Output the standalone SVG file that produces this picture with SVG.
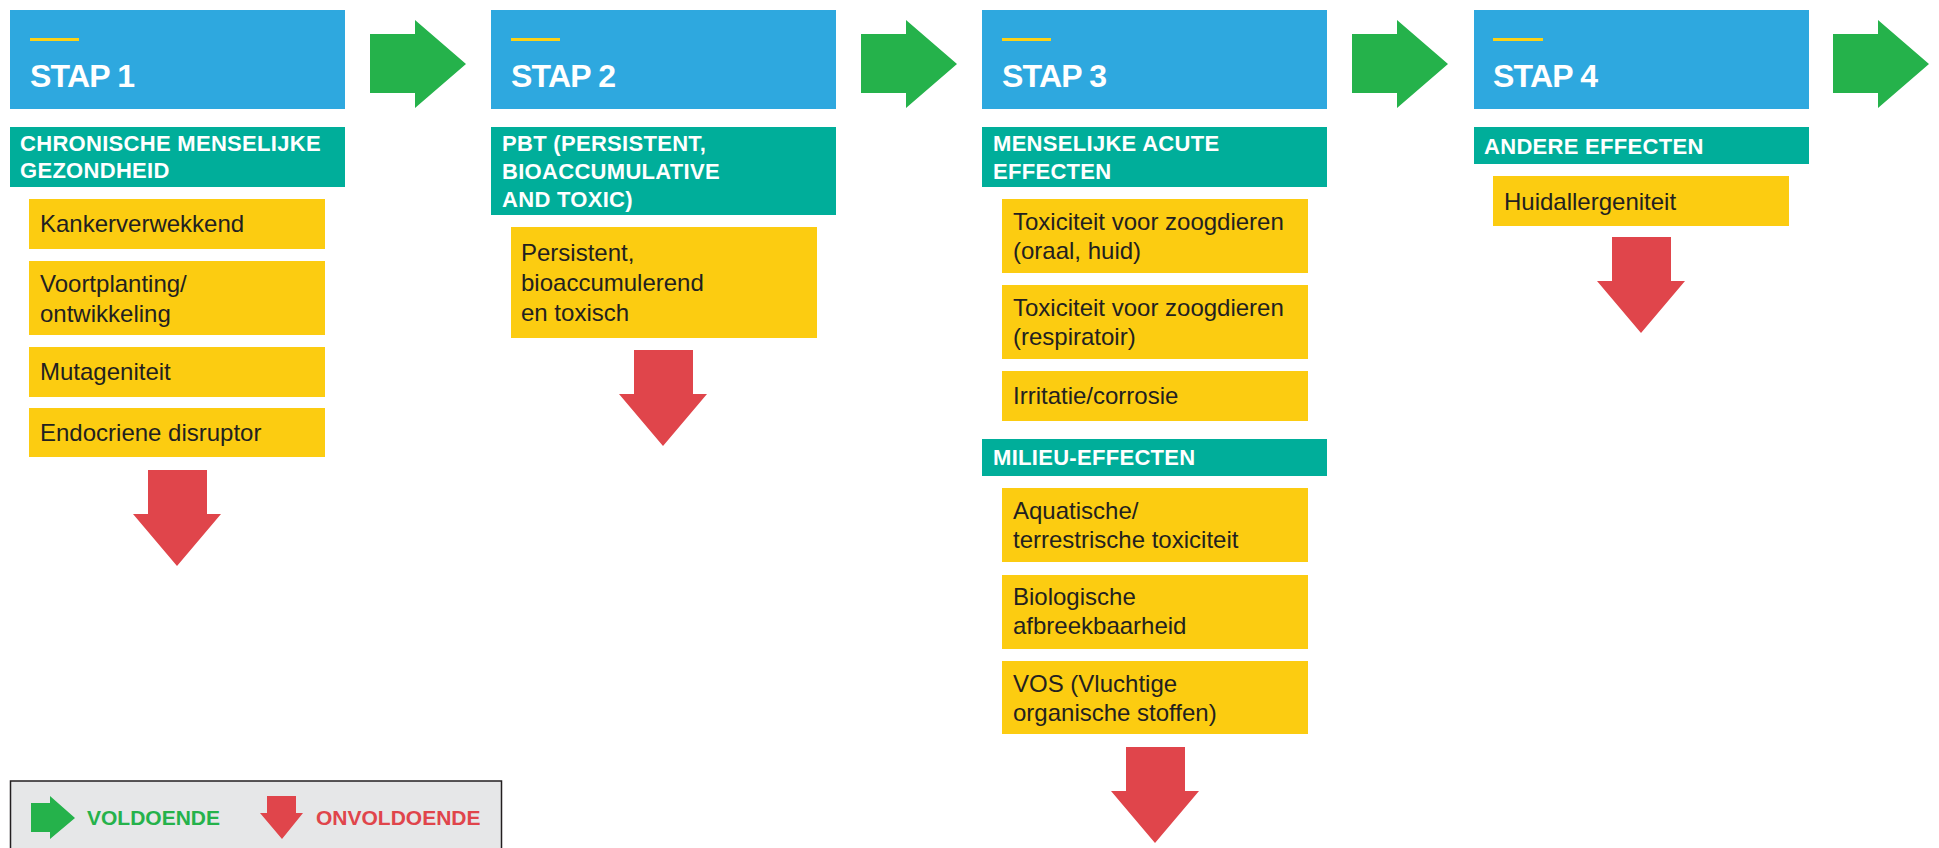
<svg xmlns="http://www.w3.org/2000/svg" xmlns:xlink="http://www.w3.org/1999/xlink" width="1939" height="848" viewBox="0 0 1939 848">
<style>
.stap{fill:#2ea8df}
.bar{fill:#fcd116}
.cat{fill:#00ae9a}
.item{fill:#fccc11}
.ht{font-family:"Liberation Sans",Arial,sans-serif;font-weight:bold;font-size:32px;fill:#ffffff;letter-spacing:-0.8px}
.ct{font-family:"Liberation Sans",Arial,sans-serif;font-weight:bold;font-size:22px;fill:#ffffff;letter-spacing:0.3px}
.it{font-family:"Liberation Sans",Arial,sans-serif;font-size:24px;fill:#231f20}
.lg{font-family:"Liberation Sans",Arial,sans-serif;font-weight:bold;font-size:21px}
.go{fill:#25b24b}
.no{fill:#e0454b}
</style>
<defs>
<path id="garrow" d="M0,14 H45 V0 L96,44 L45,88 V73 H0 Z"/>
<path id="rarrow" d="M15,0 H74 V44 H88 L44,96 L0,44 H15 Z"/>
</defs>
<rect width="1939" height="848" fill="#ffffff"/>

<g id="stap1">
<rect class="stap" x="10" y="10" width="335" height="99"/>
<rect class="bar" x="30" y="38" width="49" height="3"/>
<text class="ht" x="30" y="87">STAP 1</text>
</g>
<g id="cat1">
<rect class="cat" x="10" y="127" width="335" height="60"/>
<text class="ct" x="20" y="151">CHRONISCHE MENSELIJKE</text>
<text class="ct" x="20" y="178">GEZONDHEID</text>
</g>
<g id="item1a"><rect class="item" x="29" y="199" width="296" height="50"/><text class="it" x="40" y="232">Kankerverwekkend</text></g>
<g id="item1b"><rect class="item" x="29" y="261" width="296" height="74"/><text class="it" x="40" y="292">Voortplanting/</text><text class="it" x="40" y="322">ontwikkeling</text></g>
<g id="item1c"><rect class="item" x="29" y="347" width="296" height="50"/><text class="it" x="40" y="380">Mutageniteit</text></g>
<g id="item1d"><rect class="item" x="29" y="408" width="296" height="49"/><text class="it" x="40" y="441">Endocriene disruptor</text></g>

<g id="stap2">
<rect class="stap" x="491" y="10" width="345" height="99"/>
<rect class="bar" x="511" y="38" width="49" height="3"/>
<text class="ht" x="511" y="87">STAP 2</text>
</g>
<g id="cat2">
<rect class="cat" x="491" y="127" width="345" height="88"/>
<text class="ct" x="502" y="151">PBT (PERSISTENT,</text>
<text class="ct" x="502" y="179">BIOACCUMULATIVE</text>
<text class="ct" x="502" y="207">AND TOXIC)</text>
</g>
<g id="item2a"><rect class="item" x="511" y="227" width="306" height="111"/><text class="it" x="521" y="261">Persistent,</text><text class="it" x="521" y="291">bioaccumulerend</text><text class="it" x="521" y="321">en toxisch</text></g>

<g id="stap3">
<rect class="stap" x="982" y="10" width="345" height="99"/>
<rect class="bar" x="1002" y="38" width="49" height="3"/>
<text class="ht" x="1002" y="87">STAP 3</text>
</g>
<g id="cat3a">
<rect class="cat" x="982" y="127" width="345" height="60"/>
<text class="ct" x="993" y="151">MENSELIJKE ACUTE</text>
<text class="ct" x="993" y="179">EFFECTEN</text>
</g>
<g id="item3a"><rect class="item" x="1002" y="199" width="306" height="74"/><text class="it" x="1013" y="230">Toxiciteit voor zoogdieren</text><text class="it" x="1013" y="259">(oraal, huid)</text></g>
<g id="item3b"><rect class="item" x="1002" y="285" width="306" height="74"/><text class="it" x="1013" y="316">Toxiciteit voor zoogdieren</text><text class="it" x="1013" y="345">(respiratoir)</text></g>
<g id="item3c"><rect class="item" x="1002" y="371" width="306" height="50"/><text class="it" x="1013" y="404">Irritatie/corrosie</text></g>
<g id="cat3b">
<rect class="cat" x="982" y="439" width="345" height="37"/>
<text class="ct" x="993" y="465">MILIEU-EFFECTEN</text>
</g>
<g id="item3d"><rect class="item" x="1002" y="488" width="306" height="74"/><text class="it" x="1013" y="519">Aquatische/</text><text class="it" x="1013" y="548">terrestrische toxiciteit</text></g>
<g id="item3e"><rect class="item" x="1002" y="575" width="306" height="74"/><text class="it" x="1013" y="605">Biologische</text><text class="it" x="1013" y="634">afbreekbaarheid</text></g>
<g id="item3f"><rect class="item" x="1002" y="661" width="306" height="73"/><text class="it" x="1013" y="692">VOS (Vluchtige</text><text class="it" x="1013" y="721">organische stoffen)</text></g>

<g id="stap4">
<rect class="stap" x="1474" y="10" width="335" height="99"/>
<rect class="bar" x="1493" y="38" width="50" height="3"/>
<text class="ht" x="1493" y="87">STAP 4</text>
</g>
<g id="cat4">
<rect class="cat" x="1474" y="127" width="335" height="37"/>
<text class="ct" x="1484" y="154">ANDERE EFFECTEN</text>
</g>
<g id="item4a"><rect class="item" x="1493" y="176" width="296" height="50"/><text class="it" x="1504" y="210">Huidallergeniteit</text></g>

<g id="connectors">
<use xlink:href="#garrow" class="go" transform="translate(370,20)"/>
<use xlink:href="#garrow" class="go" transform="translate(861,20)"/>
<use xlink:href="#garrow" class="go" transform="translate(1352,20)"/>
<use xlink:href="#garrow" class="go" transform="translate(1833,20)"/>
<use xlink:href="#rarrow" class="no" transform="translate(133,470)"/>
<use xlink:href="#rarrow" class="no" transform="translate(619,350)"/>
<use xlink:href="#rarrow" class="no" transform="translate(1111,747)"/>
<use xlink:href="#rarrow" class="no" transform="translate(1597,237)"/>
</g>

<g id="legend">
<rect x="10.5" y="781" width="491" height="80" fill="#e6e7e8" stroke="#231f20" stroke-width="1.5"/>
<path class="go" d="M31,803 H50 V796 L75,818 L50,839 V832 H31 Z"/>
<text class="lg" x="87" y="825" fill="#25b24b">VOLDOENDE</text>
<path class="no" d="M267,796 H296 V813 H303 L282,839 L260,813 H267 Z"/>
<text class="lg" x="316" y="825" fill="#e0454b">ONVOLDOENDE</text>
</g>
</svg>
